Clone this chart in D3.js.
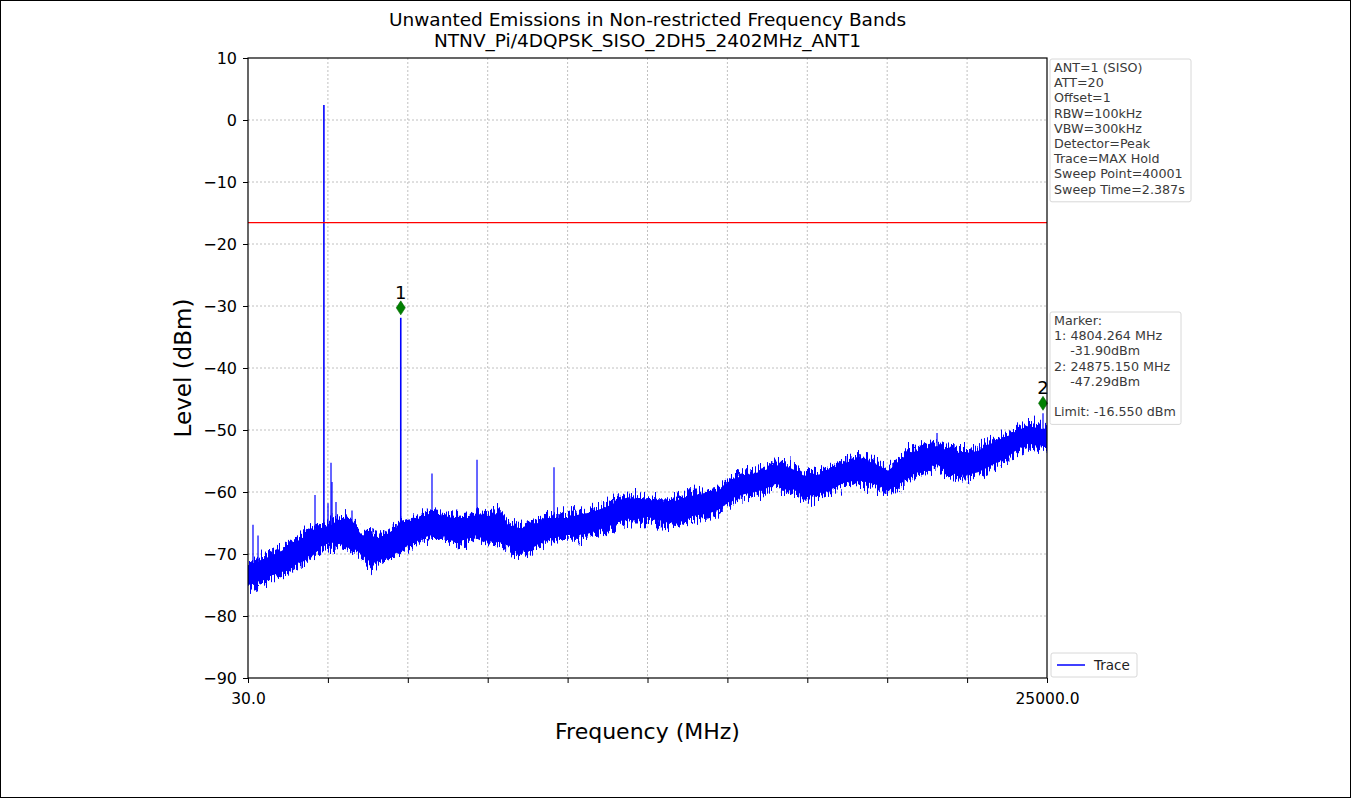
<!DOCTYPE html>
<html>
<head>
<meta charset="utf-8">
<script src="https://cdn.jsdelivr.net/npm/d3@7"></script>
<style>
html,body{margin:0;padding:0;background:#fff;}
svg{display:block;font-family:"DejaVu Sans",sans-serif;}
</style>
</head>
<body>
<svg id="chart" width="1351" height="798"></svg>
<script>
// ---- data ----
const titleLines = ["Unwanted Emissions in Non-restricted Frequency Bands", "NTNV_Pi/4DQPSK_SISO_2DH5_2402MHz_ANT1"];
const xDomain = [30, 25000];
const yDomain = [-90, 10];
const yTicks = [10, 0, -10, -20, -30, -40, -50, -60, -70, -80, -90];
const xTickCount = 10;
const xTickLabels = ["30.0", "25000.0"];
const limitLevel = -16.55;

// noise floor envelope (MHz, upper dBm, lower dBm)
const envFreq = [30,467,780,1093,1405,1718,2030,2343,2655,2968,3280,3593,3905,4155,4468,4780,5093,5405,5780,6187,6593,6905,7187,7530,7843,8155,8468,8780,9093,9405,9718,10030,10343,10655,10968,11280,11593,11905,12218,12530,12843,13155,13468,13780,14093,14405,14718,14937,15249,15562,15874,16187,16499,16812,17124,17437,17749,18062,18374,18687,19093,19405,19718,20030,20343,20656,20968,21281,21562,21906,22218,22531,22843,23156,23468,23781,24093,24406,24718,25000];
const envTop = [-71.8,-70.5,-69.7,-69.0,-68.0,-67.0,-65.8,-65.3,-64.8,-64.0,-64.5,-66.5,-66.6,-67.0,-66.0,-65.0,-64.5,-63.7,-63.0,-63.4,-64.0,-63.7,-63.2,-63.4,-63.2,-64.8,-65.6,-65.0,-64.5,-63.7,-63.7,-63.7,-63.2,-62.9,-62.4,-61.8,-61.0,-60.5,-60.8,-60.8,-61.3,-61.3,-60.8,-60.2,-60.0,-59.7,-59.4,-58.4,-57.3,-56.8,-56.5,-56.0,-55.2,-55.3,-56.0,-57.0,-56.8,-56.5,-56.0,-54.8,-54.3,-54.5,-55.2,-56.1,-54.8,-53.2,-52.9,-52.4,-52.1,-52.9,-53.2,-53.2,-52.9,-51.9,-51.3,-50.5,-49.5,-48.9,-49.2,-49.5];
const envBottom = [-75.5,-74.7,-73.9,-73.4,-72.6,-71.5,-70.5,-69.0,-68.5,-69.0,-69.3,-70.6,-72.0,-71.5,-70.6,-69.7,-68.9,-68.0,-67.4,-67.7,-68.3,-68.0,-67.4,-68.3,-68.5,-69.0,-70.2,-69.7,-68.9,-68.0,-67.7,-67.4,-67.4,-67.2,-66.6,-66.1,-65.3,-64.8,-64.8,-64.5,-65.0,-65.3,-65.6,-64.5,-64.2,-64.0,-63.4,-62.6,-61.3,-60.8,-60.5,-60.0,-59.2,-59.4,-60.2,-61.3,-60.8,-60.2,-59.7,-58.9,-58.6,-58.9,-59.4,-60.2,-59.4,-58.0,-57.3,-56.5,-56.0,-57.3,-57.7,-57.7,-57.3,-56.5,-55.6,-54.8,-53.5,-52.7,-52.9,-53.2];

// discrete spurs (MHz, peak dBm)
const spurFreq = [186, 343, 2124, 2402, 2530, 2624, 2655, 2780, 3280, 4804, 5780, 7187, 9593, 21563, 24875];
const spurLevel = [-65.3, -67.0, -60.5, 2.4, -61.8, -55.3, -58.4, -61.6, -63.0, -31.9, -57.0, -54.8, -56.0, -50.5, -47.29];

// markers (as plotted)
const markerNames = ["1", "2"];
const markerFreq = [4804.264, 24875.150];
const markerPlotLevel = [-30.3, -45.7];

const infoLines = ["ANT=1 (SISO)", "ATT=20", "Offset=1", "RBW=100kHz", "VBW=300kHz", "Detector=Peak", "Trace=MAX Hold", "Sweep Point=40001", "Sweep Time=2.387s"];
const markerLines = ["Marker:", "1: 4804.264 MHz", "    -31.90dBm", "2: 24875.150 MHz", "    -47.29dBm", "", "Limit: -16.550 dBm"];
const legendLabel = "Trace";

// ---- drawing ----
const svg = d3.select("#chart");
const m = {left: 248, right: 1047, top: 58, bottom: 678};
const x = d3.scaleLinear().domain(xDomain).range([m.left, m.right]);
const y = d3.scaleLinear().domain(yDomain).range([m.bottom, m.top]);
const fmt = v => String(v).replace("-", "\u2212");

const defs = svg.append("defs");
const filt = defs.append("filter").attr("id", "rough")
  .attr("x", "-2%").attr("y", "-30%").attr("width", "104%").attr("height", "160%")
  .attr("color-interpolation-filters", "sRGB");
filt.append("feTurbulence").attr("type", "fractalNoise").attr("baseFrequency", "0.7 0.05")
  .attr("numOctaves", 2).attr("seed", 7).attr("result", "n");
const ct = filt.append("feComponentTransfer").attr("in", "n").attr("result", "n2");
ct.append("feFuncG").attr("type", "linear").attr("slope", 0).attr("intercept", 0.5);
ct.append("feFuncR").attr("type", "linear").attr("slope", 1.8).attr("intercept", -0.4);
filt.append("feDisplacementMap").attr("in", "SourceGraphic").attr("in2", "n2")
  .attr("scale", 16).attr("xChannelSelector", "G").attr("yChannelSelector", "R");

svg.append("rect").attr("x", 0.5).attr("y", 0.5).attr("width", 1350).attr("height", 797)
  .attr("fill", "#fff").attr("stroke", "#000").attr("stroke-width", 1);

// title
svg.selectAll("text.title").data(titleLines).join("text")
  .attr("x", (m.left + m.right) / 2).attr("y", (d, i) => 26 + i * 21)
  .attr("text-anchor", "middle").attr("font-size", 18.5).attr("fill", "#000").text(d => d);

// grid
const xTickVals = d3.range(xTickCount + 1).map(i => xDomain[0] + i * (xDomain[1] - xDomain[0]) / xTickCount);
const grid = svg.append("g");
grid.selectAll("line.gx").data(xTickVals.slice(1, -1)).join("line")
  .attr("x1", d => x(d)).attr("x2", d => x(d)).attr("y1", m.top).attr("y2", m.bottom)
  .attr("stroke", "#b0b0b0").attr("stroke-width", 0.8).attr("stroke-dasharray", "2,2");
grid.selectAll("line.gy").data(yTicks.slice(1, -1)).join("line")
  .attr("x1", m.left).attr("x2", m.right).attr("y1", d => y(d)).attr("y2", d => y(d))
  .attr("stroke", "#b0b0b0").attr("stroke-width", 0.8).attr("stroke-dasharray", "2,2");

// trace band
svg.append("clipPath").attr("id", "clip").append("rect")
  .attr("x", m.left).attr("y", m.top).attr("width", m.right - m.left).attr("height", m.bottom - m.top);
const envData = envFreq.map((f, i) => ({f, t: envTop[i], b: envBottom[i]}));
const plot = svg.append("g").attr("clip-path", "url(#clip)");
// solid core (slightly inset) + roughened full band
plot.append("path").datum(envData)
  .attr("d", d3.area().x(d => x(d.f)).y0(d => y(d.b) - 3).y1(d => y(d.t) + 3))
  .attr("fill", "#0000ff");
plot.append("g").attr("filter", "url(#rough)").append("path").datum(envData)
  .attr("d", d3.area().x(d => x(d.f)).y0(d => y(d.b)).y1(d => y(d.t)))
  .attr("fill", "#0000ff").attr("stroke", "#0000ff").attr("stroke-width", 1.5).attr("stroke-linejoin", "round");
const bandTop = d3.scaleLinear().domain(envFreq).range(envTop);
plot.selectAll("line.spur").data(spurFreq).join("line")
  .attr("x1", d => x(d)).attr("x2", d => x(d))
  .attr("y1", (d, i) => y(spurLevel[i])).attr("y2", d => y(bandTop(d)) + 4)
  .attr("stroke", "#0000ff").attr("stroke-width", (d, i) => spurLevel[i] > -40 ? 1.6 : 1.2);

// limit line
svg.append("line").attr("x1", m.left).attr("x2", m.right).attr("y1", y(limitLevel)).attr("y2", y(limitLevel))
  .attr("stroke", "#ff0000").attr("stroke-width", 1.2);

// markers
const mk = svg.append("g");
markerFreq.forEach((f, i) => {
  const cx = x(f), cy = y(markerPlotLevel[i]);
  mk.append("path").attr("d", `M${cx},${cy - 7}L${cx + 4.5},${cy}L${cx},${cy + 7}L${cx - 4.5},${cy}Z`)
    .attr("fill", "#008000").attr("stroke", "#006400").attr("stroke-width", 0.6);
  mk.append("text").attr("x", cx).attr("y", cy - 9).attr("text-anchor", "middle")
    .attr("font-size", 18).attr("fill", "#000").text(markerNames[i]);
});

// axes
const yAxis = d3.axisLeft(y).tickValues(yTicks).tickSize(5).tickPadding(6).tickFormat(fmt);
const gy = svg.append("g").attr("transform", `translate(${m.left},0)`).call(yAxis);
gy.selectAll("text").attr("font-size", 16).attr("font-family", "DejaVu Sans").attr("fill", "#000");
const xAxis = d3.axisBottom(x).tickValues(xTickVals).tickSize(5).tickPadding(10)
  .tickFormat((d, i) => i === 0 ? xTickLabels[0] : (i === xTickCount ? xTickLabels[1] : ""));
const gx = svg.append("g").attr("transform", `translate(0,${m.bottom})`).call(xAxis);
gx.selectAll("text").attr("font-size", 15.5).attr("font-family", "DejaVu Sans").attr("fill", "#000");
[gx, gy].forEach(g => { g.select(".domain").remove(); g.selectAll(".tick line").attr("stroke", "#000").attr("stroke-width", 1); });
svg.append("rect").attr("x", m.left).attr("y", m.top).attr("width", m.right - m.left).attr("height", m.bottom - m.top)
  .attr("fill", "none").attr("stroke", "#000").attr("stroke-width", 1.2);

// axis labels
svg.append("text").attr("x", (m.left + m.right) / 2).attr("y", 739).attr("text-anchor", "middle")
  .attr("font-size", 22).attr("fill", "#000").text("Frequency (MHz)");
svg.append("text").attr("transform", `translate(191,${(m.top + m.bottom) / 2}) rotate(-90)`)
  .attr("text-anchor", "middle").attr("font-size", 23).attr("fill", "#000").text("Level (dBm)");

// info boxes
function box(lines, bx, by, w) {
  const lh = 15.2;
  svg.append("rect").attr("x", bx).attr("y", by).attr("width", w).attr("height", lines.length * lh + 6)
    .attr("fill", "#fff").attr("stroke", "#d8d8d8").attr("stroke-width", 1).attr("rx", 2);
  svg.selectAll(null).data(lines).join("text")
    .attr("x", bx + 4).attr("y", (d, i) => by + 13 + i * lh)
    .attr("font-size", 12.7).attr("fill", "#3a3a3a").attr("xml:space", "preserve").style("white-space", "pre").text(d => d);
}
box(infoLines, 1050, 59, 141);
box(markerLines, 1050, 312, 131);

// legend
const lg = svg.append("g");
lg.append("rect").attr("x", 1051).attr("y", 653).attr("width", 86).attr("height", 24)
  .attr("fill", "#fff").attr("stroke", "#d8d8d8").attr("rx", 2);
lg.append("line").attr("x1", 1057).attr("x2", 1085).attr("y1", 665).attr("y2", 665).attr("stroke", "#0000ff").attr("stroke-width", 1.5);
lg.append("text").attr("x", 1094).attr("y", 670).attr("font-size", 13.5).attr("fill", "#222").text(legendLabel);
</script>
</body>
</html>
